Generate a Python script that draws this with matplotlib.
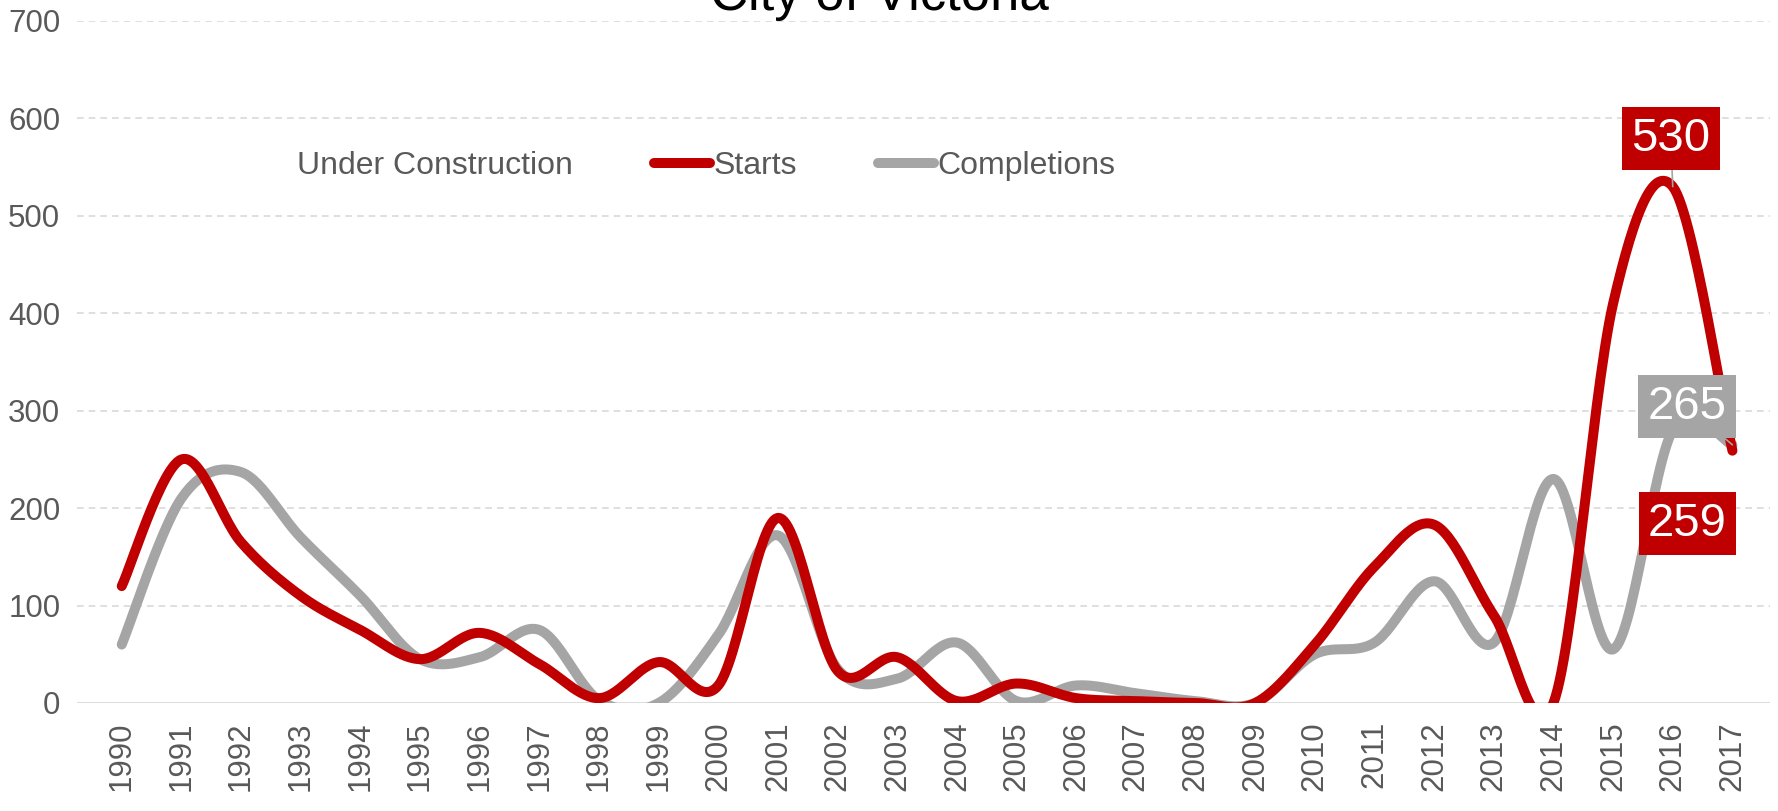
import numpy as np
import matplotlib
matplotlib.use("Agg")
import matplotlib.pyplot as plt
from matplotlib.lines import Line2D

plt.rcParams['font.family'] = ['Liberation Sans', 'DejaVu Sans']

years = list(range(1990, 2018))
starts = [120, 250, 165, 110, 75, 45, 72, 40, 5, 42, 18, 190, 33, 47, 2, 20, 5, 2, 0, 0,
          60, 140, 183, 90, 0, 410, 530, 259]
completions = [60, 210, 237, 170, 110, 45, 47, 75, 3, 0, 70, 172, 35, 25, 62, 2, 18, 10, 2, 0,
               50, 62, 125, 62, 230, 55, 280, 265]
yticks = [0, 100, 200, 300, 400, 500, 600, 700]

RED = '#C00000'
GRAY = '#A5A5A5'
TXT = '#595959'


def smooth(x, y, n=30):
    x = np.asarray(x, float)
    y = np.asarray(y, float)
    P = np.column_stack([x, y])
    P = np.vstack([P[0], P, P[-1]])
    out = []
    t = np.linspace(0, 1, n)
    for i in range(1, len(P) - 2):
        p0, p1, p2, p3 = P[i - 1], P[i], P[i + 1], P[i + 2]
        c1 = p1 + (p2 - p0) / 6.0
        c2 = p2 - (p3 - p1) / 6.0
        seg = ((1 - t) ** 3)[:, None] * p1 + (3 * (1 - t) ** 2 * t)[:, None] * c1 \
            + (3 * (1 - t) * t ** 2)[:, None] * c2 + (t ** 3)[:, None] * p2
        out.append(seg if i == 1 else seg[1:])
    S = np.vstack(out)
    return S[:, 0], S[:, 1]


fig = plt.figure(figsize=(17.78, 8.11), dpi=100)
ax = fig.add_axes([77 / 1778, 108 / 811, (1770 - 77) / 1778, (703 - 21) / 811])

for v in yticks[1:]:
    ax.axhline(v, color='#D9D9D9', lw=1.2, ls=(0, (4, 3)), zorder=0)
ax.axhline(0, color='#D9D9D9', lw=2, zorder=1)

LW = 7.2
sx, sy = smooth(years, completions)
ax.plot(sx, sy, color=GRAY, lw=LW, solid_capstyle='round', zorder=3)
rx, ry = smooth(years, starts)
ax.plot(rx, ry, color=RED, lw=LW, solid_capstyle='round', zorder=4)

ax.set_xlim(1989.25, 2017.63)
ax.set_ylim(0, 700)
ax.set_yticks(yticks)
ax.set_xticks(years)
ax.set_xticklabels([str(y) for y in years], rotation=90, fontsize=22.5, color=TXT)
ax.set_yticklabels([str(v) for v in yticks], fontsize=22.5, color=TXT)
ax.tick_params(axis='both', length=0)
ax.tick_params(axis='x', pad=13)
ax.tick_params(axis='y', pad=12)
for s in ax.spines.values():
    s.set_visible(False)

fig.text(879 / 1778, 1 - 10 / 811, 'City of Victoria', ha='center', va='baseline',
         fontsize=38, color='#000000')

handles = [Line2D([], [], color='none', lw=LW),
           Line2D([], [], color=RED, lw=LW, solid_capstyle='round'),
           Line2D([], [], color=GRAY, lw=LW, solid_capstyle='round')]
leg = fig.legend(handles, ['Under Construction', 'Starts', 'Completions'], ncol=3,
                 loc='center left', bbox_to_anchor=(238 / 1778, 1 - 166 / 811),
                 frameon=False, fontsize=23, handlelength=1.75, handletextpad=0.1,
                 columnspacing=2.55, borderpad=0, borderaxespad=0)
for t in leg.get_texts():
    t.set_color(TXT)

# data labels
i16 = years.index(2016)
i17 = years.index(2017)
box_kw = dict(boxstyle='square,pad=0.2', ec='none')
ax.annotate(str(starts[i16]), xy=(years[i16], starts[i16]), xytext=(-2, 48),
            textcoords='offset pixels', ha='center', va='center', fontsize=34, color='white',
            bbox=dict(fc=RED, **box_kw),
            arrowprops=dict(arrowstyle='-', color=GRAY, lw=1.2, shrinkA=0, shrinkB=0), zorder=6)
ax.annotate(str(completions[i17]), xy=(years[i17], completions[i17]), xytext=(-45, 38),
            textcoords='offset pixels', ha='center', va='center', fontsize=34, color='white',
            bbox=dict(fc=GRAY, **box_kw),
            arrowprops=dict(arrowstyle='-', color=GRAY, lw=1.2, shrinkA=0, shrinkB=0), zorder=6)
ax.annotate(str(starts[i17]), xy=(years[i17], starts[i17]), xytext=(-45, -73),
            textcoords='offset pixels', ha='center', va='center', fontsize=34, color='white',
            bbox=dict(fc=RED, **box_kw), zorder=6)

fig.savefig('out.png', dpi=100, facecolor='white')
